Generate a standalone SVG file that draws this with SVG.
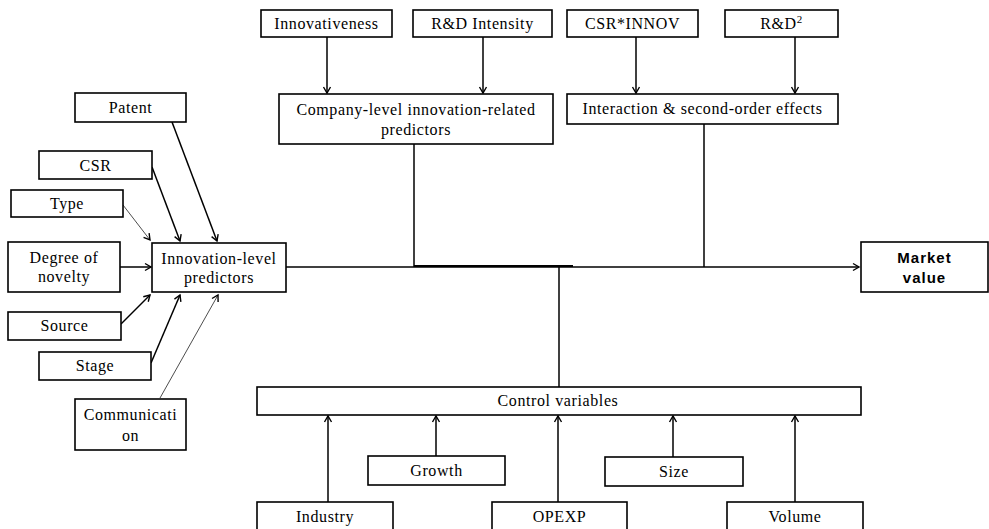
<svg xmlns="http://www.w3.org/2000/svg" width="989" height="529" viewBox="0 0 989 529">
<defs>
<style>
.b{fill:#fff;stroke:#000;stroke-width:1.6}
.t{font-family:"Liberation Serif","Times New Roman",serif;font-size:16px;letter-spacing:0.6px;fill:#000;text-anchor:middle}
.mv{font-family:"Liberation Sans",Arial,sans-serif;font-size:15px;font-weight:bold;letter-spacing:1px;fill:#000;text-anchor:middle}
.c{fill:none;stroke:#000;stroke-width:1.5}
.thin{fill:none;stroke:#000;stroke-width:0.7}
</style>
<marker id="a" markerWidth="10" markerHeight="10" refX="8" refY="5" orient="auto" markerUnits="userSpaceOnUse">
<path d="M2,1.5 L8,5 L2,8.5" fill="none" stroke="#000" stroke-width="1.4"/>
</marker>
</defs>
<rect width="989" height="529" fill="#fff"/>
<g id="connectors">
<line class="c" x1="172" y1="122" x2="217" y2="241" marker-end="url(#a)"/>
<line class="c" x1="152" y1="167" x2="180" y2="241" marker-end="url(#a)"/>
<line class="thin" x1="123" y1="205" x2="150" y2="240" marker-end="url(#a)"/>
<line class="c" x1="120" y1="267" x2="151" y2="267" marker-end="url(#a)"/>
<line class="c" x1="121" y1="324" x2="150" y2="295" marker-end="url(#a)"/>
<line class="c" x1="151" y1="363" x2="180" y2="295" marker-end="url(#a)"/>
<line class="thin" x1="160" y1="398" x2="218" y2="295" marker-end="url(#a)"/>
<line class="c" x1="327" y1="37" x2="327" y2="93" marker-end="url(#a)"/>
<line class="c" x1="483" y1="37" x2="483" y2="93" marker-end="url(#a)"/>
<line class="c" x1="636" y1="37" x2="636" y2="93" marker-end="url(#a)"/>
<line class="c" x1="795" y1="37" x2="795" y2="93" marker-end="url(#a)"/>
<line class="c" x1="414" y1="144" x2="414" y2="267"/>
<line class="c" x1="704" y1="124" x2="704" y2="267"/>
<line class="c" x1="286" y1="267" x2="859" y2="267" marker-end="url(#a)"/>
<line x1="414" y1="266" x2="573" y2="266" stroke="#000" stroke-width="2"/>
<line class="c" x1="559" y1="267" x2="559" y2="387"/>
<line class="c" x1="328" y1="502" x2="328" y2="416" marker-end="url(#a)"/>
<line class="c" x1="436" y1="456" x2="436" y2="416" marker-end="url(#a)"/>
<line class="c" x1="558" y1="502" x2="558" y2="416" marker-end="url(#a)"/>
<line class="c" x1="673" y1="457" x2="673" y2="416" marker-end="url(#a)"/>
<line class="c" x1="795" y1="502" x2="795" y2="416" marker-end="url(#a)"/>
</g>
<g id="patent"><rect class="b" x="75" y="93" width="111" height="29"/><text class="t" x="130.5" y="113">Patent</text></g>
<g id="csr"><rect class="b" x="39" y="151" width="113" height="28"/><text class="t" x="95.5" y="171">CSR</text></g>
<g id="type"><rect class="b" x="11" y="190" width="112" height="27"/><text class="t" x="67" y="209">Type</text></g>
<g id="novelty"><rect class="b" x="8" y="242" width="112" height="50"/><text class="t" x="64" y="263">Degree of</text><text class="t" x="64" y="282">novelty</text></g>
<g id="innovation"><rect class="b" x="152" y="243" width="134" height="49"/><text class="t" x="219" y="264">Innovation-level</text><text class="t" x="219" y="283">predictors</text></g>
<g id="source"><rect class="b" x="8" y="312" width="113" height="28"/><text class="t" x="64.5" y="331">Source</text></g>
<g id="stage"><rect class="b" x="39" y="352" width="112" height="28"/><text class="t" x="95" y="371">Stage</text></g>
<g id="communication"><rect class="b" x="75" y="399" width="111" height="51"/><text class="t" x="130.5" y="420">Communicati</text><text class="t" x="130.5" y="441">on</text></g>
<g id="innovativeness"><rect class="b" x="261" y="10" width="131" height="27"/><text class="t" x="326.5" y="29">Innovativeness</text></g>
<g id="rdintensity"><rect class="b" x="413" y="10" width="139" height="27"/><text class="t" x="482.5" y="29">R&amp;D Intensity</text></g>
<g id="csrinnov"><rect class="b" x="567" y="10" width="131" height="27"/><text class="t" x="632.5" y="29">CSR*INNOV</text></g>
<g id="rd2"><rect class="b" x="725" y="10" width="113" height="27"/><text class="t" x="781.5" y="29">R&amp;D<tspan dy="-6" font-size="11">2</tspan></text></g>
<g id="company"><rect class="b" x="279" y="94" width="274" height="50"/><text class="t" x="416" y="115">Company-level innovation-related</text><text class="t" x="416" y="135">predictors</text></g>
<g id="interaction"><rect class="b" x="567" y="94" width="271" height="30"/><text class="t" x="702.5" y="114">Interaction &amp; second-order effects</text></g>
<g id="market"><rect class="b" x="861" y="242" width="127" height="50"/><text class="mv" x="924.5" y="263">Market</text><text class="mv" x="924.5" y="283">value</text></g>
<g id="control"><rect class="b" x="257" y="387" width="604" height="28"/><text class="t" x="558" y="406">Control variables</text></g>
<g id="growth"><rect class="b" x="368" y="456" width="137" height="29"/><text class="t" x="436.5" y="476">Growth</text></g>
<g id="size"><rect class="b" x="605" y="457" width="138" height="29"/><text class="t" x="674" y="477">Size</text></g>
<g id="industry"><rect class="b" x="257" y="502" width="136" height="40"/><text class="t" x="325" y="522">Industry</text></g>
<g id="opexp"><rect class="b" x="492" y="502" width="135" height="40"/><text class="t" x="559.5" y="522">OPEXP</text></g>
<g id="volume"><rect class="b" x="727" y="502" width="136" height="40"/><text class="t" x="795" y="522">Volume</text></g>
</svg>
